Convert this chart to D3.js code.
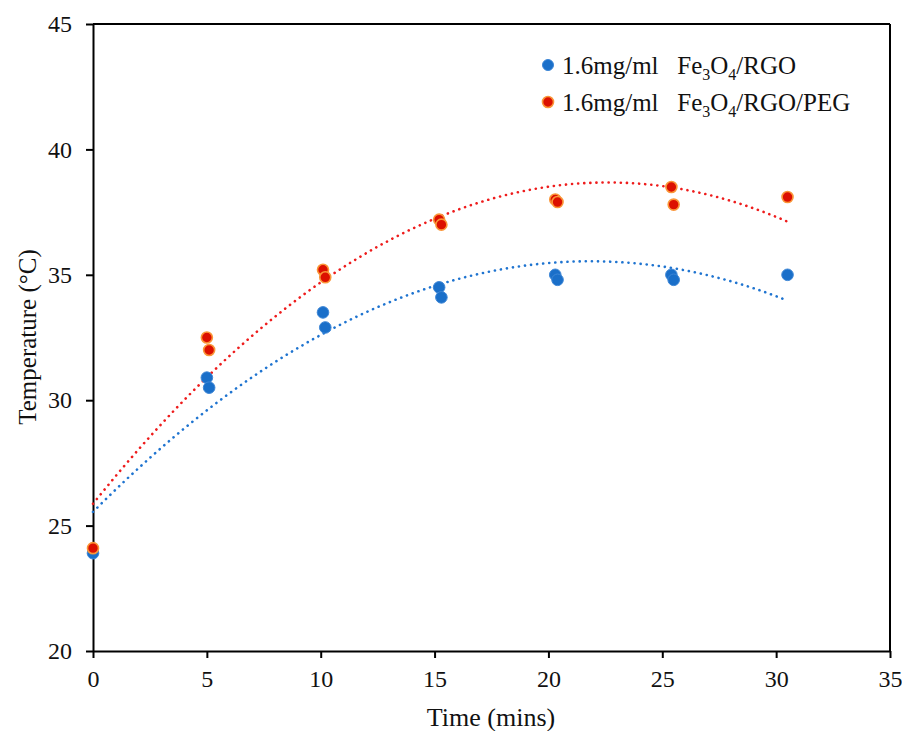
<!doctype html>
<html>
  <head>
    <script src="https://cdn.jsdelivr.net/npm/d3@7/dist/d3.min.js"></script>
    <style>
      body, html {
        margin: 0;
        background: #fff;
      }
      svg {
        font-family: "Liberation Serif", "Times New Roman", serif;
      }
      .axis path, .axis line {
        stroke: #000;
        stroke-width: 2px;
      }
      .axis text {
        font-family: "Liberation Serif", "Times New Roman", serif;
        font-size: 24px;
        fill: #111;
      }
    </style>
  </head>
  <body>
    <svg width="902" height="731"></svg>
    <script>
      var xTicks = [0, 5, 10, 15, 20, 25, 30, 35];
      var yTicks = [20, 25, 30, 35, 40, 45];

      // time (mins) readings
      var timeRGO = [0, 5, 5.1, 10.1, 10.2, 15.2, 15.3, 20.3, 20.4, 25.4, 25.5, 30.5];
      var tempRGO = [23.9, 30.9, 30.5, 33.5, 32.9, 34.5, 34.1, 35.0, 34.8, 35.0, 34.8, 35.0];
      var timePEG = [0, 5, 5.1, 10.1, 10.2, 15.2, 15.3, 20.3, 20.4, 25.4, 25.5, 30.5];
      var tempPEG = [24.1, 32.5, 32.0, 35.2, 34.9, 37.2, 37.0, 38.0, 37.9, 38.5, 37.8, 38.1];

      var svg = d3.select("svg");
      var plotLeft = 93, plotRight = 890, plotTop = 24, plotBottom = 651;

      var x = d3.scaleLinear().domain([0, 35]).range([plotLeft, plotRight]);
      var y = d3.scaleLinear().domain([20, 45]).range([plotBottom, plotTop]);

      // least squares, order 2 (like the spreadsheet trendline)
      function polyFit(xs, ys) {
        var n = xs.length, s = [0, 0, 0, 0, 0], t = [0, 0, 0];
        for (var i = 0; i < n; i++) {
          for (var k = 0; k < 5; k++) s[k] += Math.pow(xs[i], k);
          for (var k = 0; k < 3; k++) t[k] += ys[i] * Math.pow(xs[i], k);
        }
        var m = [[s[0], s[1], s[2], t[0]], [s[1], s[2], s[3], t[1]], [s[2], s[3], s[4], t[2]]];
        for (var c = 0; c < 3; c++) {
          for (var r = c + 1; r < 3; r++) {
            var f = m[r][c] / m[c][c];
            for (var j = c; j < 4; j++) m[r][j] -= f * m[c][j];
          }
        }
        var a = [0, 0, 0];
        for (var r = 2; r >= 0; r--) {
          var v = m[r][3];
          for (var j = r + 1; j < 3; j++) v -= m[r][j] * a[j];
          a[r] = v / m[r][r];
        }
        return a;
      }

      function trend(xs, ys, color) {
        var a = polyFit(xs, ys);
        var pts = d3.range(0, 30.51, 0.1).map(d => [d, a[0] + a[1] * d + a[2] * d * d]);
        svg.append("path")
          .attr("d", d3.line().x(d => x(d[0])).y(d => y(d[1]))(pts))
          .attr("fill", "none")
          .attr("stroke", color)
          .attr("stroke-width", 2.6)
          .attr("stroke-linecap", "round")
          .attr("stroke-dasharray", "0.1 6");
      }

      // frame
      svg.append("line").attr("x1", plotLeft).attr("x2", plotRight).attr("y1", plotTop).attr("y2", plotTop)
        .attr("stroke", "#000").attr("stroke-width", 2);
      svg.append("line").attr("x1", plotRight).attr("x2", plotRight).attr("y1", plotTop).attr("y2", plotBottom)
        .attr("stroke", "#000").attr("stroke-width", 2);

      svg.append("g").attr("class", "axis")
        .attr("transform", "translate(0," + plotBottom + ")")
        .call(d3.axisBottom(x).tickValues(xTicks).tickSize(7).tickSizeOuter(0).tickPadding(12));

      svg.append("g").attr("class", "axis")
        .attr("transform", "translate(" + plotLeft + ",0)")
        .call(d3.axisLeft(y).tickValues(yTicks).tickSize(7).tickSizeOuter(0).tickPadding(14));

      trend(timeRGO, tempRGO, "#1f74d0");
      trend(timePEG, tempPEG, "#ee1c1c");

      svg.append("g").selectAll("circle")
        .data(d3.zip(timeRGO, tempRGO))
        .enter().append("circle")
          .attr("cx", d => x(d[0])).attr("cy", d => y(d[1])).attr("r", 5.8)
          .attr("fill", "#1a6fc9").attr("stroke", "#3d86d6").attr("stroke-width", 1);

      svg.append("g").selectAll("circle")
        .data(d3.zip(timePEG, tempPEG))
        .enter().append("circle")
          .attr("cx", d => x(d[0])).attr("cy", d => y(d[1])).attr("r", 5.5)
          .attr("fill", "#dc1000").attr("stroke", "#fa9638").attr("stroke-width", 1.6);

      // legend
      var legend = [
        {label: "/RGO", fill: "#1a6fc9", stroke: "#3d86d6", sw: 1},
        {label: "/RGO/PEG", fill: "#dc1000", stroke: "#fa9638", sw: 1.6}
      ];
      legend.forEach(function (d, i) {
        var ly = 65 + i * 37;
        svg.append("circle").attr("cx", 548).attr("cy", ly).attr("r", 5.5)
          .attr("fill", d.fill).attr("stroke", d.stroke).attr("stroke-width", d.sw);
        var t = svg.append("text").attr("x", 562).attr("y", ly + 9)
          .attr("font-size", 25).attr("fill", "#111")
          .attr("xml:space", "preserve");
        t.append("tspan").text("1.6mg/ml   Fe");
        t.append("tspan").attr("font-size", 16).attr("dy", 6).text("3");
        t.append("tspan").attr("dy", -6).text("O");
        t.append("tspan").attr("font-size", 16).attr("dy", 6).text("4");
        t.append("tspan").attr("dy", -6).text(d.label);
      });

      svg.append("text").attr("x", 491).attr("y", 726).attr("text-anchor", "middle")
        .attr("font-size", 26).attr("fill", "#111").text("Time (mins)");

      svg.append("text").attr("transform", "translate(36,337) rotate(-90)")
        .attr("text-anchor", "middle").attr("font-size", 25).attr("fill", "#111")
        .text("Temperature (°C)");
    </script>
  </body>
</html>
